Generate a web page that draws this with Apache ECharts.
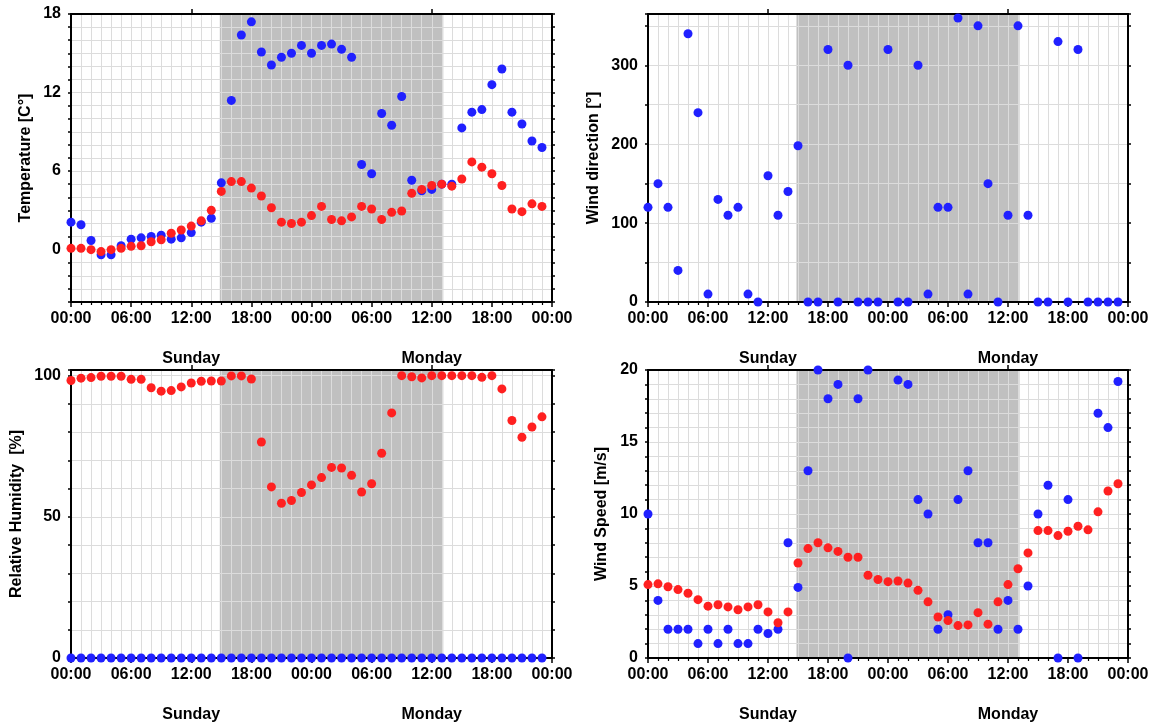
<!doctype html>
<html>
<head>
<meta charset="utf-8">
<title>Weather, Sunday - Monday</title>
<style type="text/css">
html,body {
  margin:0;
  padding:0;
  background-color:#fff;
}
#chart { width:1153px; height:724px; }
</style>
<script type="text/javascript" src="https://cdn.jsdelivr.net/npm/echarts@6/dist/echarts.min.js"></script>
</head>
<body>
<div id="chart"></div>
<script type="text/javascript">
// hours since Sunday 00:00
var hours = [0,1,2,3,4,5,6,7,8,9,10,11,12,13,14,15,16,17,18,19,20,21,22,23,
             24,25,26,27,28,29,30,31,32,33,34,35,36,37,38,39,40,41,42,43,44,45,46,47];
var dayNames = ['Sunday', 'Monday'];
var dayTicks = [12, 36];
// dark period (grey band)
var nightStart = 14.85;
var nightEnd = 37.15;

var tempBlue = [2.1,1.9,0.7,-0.4,-0.4,0.3,0.8,0.9,1.0,1.1,0.8,0.9,1.3,2.1,2.4,
                5.1,11.4,16.4,17.4,15.1,14.1,14.7,15.0,15.6,15.0,15.6,15.7,15.3,14.7,
                6.5,5.8,10.4,9.5,11.7,5.3,4.5,4.6,5.0,5.0,9.3,10.5,10.7,12.6,13.8,10.5,9.6,8.3,7.8];
var tempRed = [0.1,0.1,0.0,-0.15,0.0,0.1,0.25,0.3,0.6,0.75,1.25,1.5,1.8,2.2,3.0,
               4.45,5.2,5.2,4.7,4.1,3.2,2.1,2.0,2.1,2.6,3.3,2.3,2.2,2.5,
               3.3,3.1,2.3,2.85,2.95,4.3,4.6,4.9,5.0,4.85,5.4,6.7,6.3,5.8,4.9,3.1,2.9,3.5,3.3];
var dirBlue = [120,150,120,40,340,240,10,130,110,120,
               10,0,160,110,140,198,0,0,320,0,
               300,0,0,0,320,0,0,300,10,120,
               120,360,10,350,150,0,110,350,110,0,
               0,330,0,320,0,0,0,0];
var humRed = [98.3,99.1,99.3,99.8,99.8,99.8,98.7,98.7,95.7,94.5,
              94.7,96.0,97.4,98.0,98.1,98.1,99.9,99.9,98.8,76.5,
              60.6,54.8,55.8,58.6,61.3,63.9,67.5,67.3,64.7,58.8,
              61.7,72.5,86.8,100,99.6,99.2,100,100,100,100,
              100,99.4,100,95.3,84.1,78.2,81.8,85.4];
var humBlue = [0,0,0,0,0,0,0,0,0,0,0,0,0,0,0,0,0,0,0,0,0,0,0,0,
               0,0,0,0,0,0,0,0,0,0,0,0,0,0,0,0,0,0,0,0,0,0,0,0];
var windBlue = [10,4,2,2,2,1,2,1,2,1,
                1,2,1.7,2,8,4.9,13,20,18,19,
                0,18,20,null,null,19.3,19,11,10,2,
                3,11,13,8,8,2,4,2,5,10,
                12,0,11,0,null,17,16,19.2];
var windRed = [5.1,5.15,4.95,4.75,4.5,4.05,3.6,3.7,3.55,3.35,
               3.55,3.7,3.2,2.45,3.2,6.6,7.6,8.0,7.65,7.4,
               7.0,7.0,5.75,5.45,5.3,5.35,5.2,4.7,3.9,2.85,
               2.6,2.25,2.3,3.15,2.35,3.9,5.1,6.2,7.3,8.85,
               8.85,8.5,8.8,9.15,8.9,10.15,11.6,12.1];

var BLUE = '#2020ff';
var RED = '#ff2020';
var GRIDC = '#dcdcdc';
var FONT = 'Liberation Sans';

var panels = [
  { left: 71,  top: 14,  width: 481, height: 288, name: 'Temperature [C°]', nameGap: 37,
    min: -4, max: 18, interval: 1, step: 6,
    series: [[tempBlue, BLUE], [tempRed, RED]] },
  { left: 648, top: 14,  width: 480, height: 288, name: 'Wind direction [°]', nameGap: 46,
    min: 0, max: 365, interval: 50, step: 100,
    series: [[dirBlue, BLUE]] },
  { left: 71,  top: 370, width: 481, height: 288, name: 'Relative Humidity  [%]', nameGap: 46,
    min: 0, max: 102, interval: 10, step: 50,
    series: [[humBlue, BLUE], [humRed, RED]] },
  { left: 648, top: 370, width: 480, height: 288, name: 'Wind Speed [m/s]', nameGap: 38,
    min: 0, max: 20, interval: 1, step: 5,
    series: [[windBlue, BLUE], [windRed, RED]] }
];

function hourLabel(v) {
  var h = v % 24;
  return (h < 10 ? '0' : '') + h + ':00';
}

var grid = [], xAxis = [], yAxis = [], series = [];

panels.forEach(function(p, i) {
  grid.push({ left: p.left, top: p.top, width: p.width, height: p.height });

  // bottom time axis
  xAxis.push({
    type: 'value', gridIndex: i, position: 'bottom', min: 0, max: 48, interval: 6, z: 2,
    axisLine: { show: true, onZero: false, lineStyle: { color: '#000', width: 2 } },
    axisTick: { show: true, length: 5, lineStyle: { color: '#000', width: 1.5 } },
    minorTick: { show: true, splitNumber: 6, length: 3, lineStyle: { color: '#000', width: 1.2 } },
    splitLine: { show: true, lineStyle: { color: GRIDC, width: 1 } },
    minorSplitLine: { show: true, lineStyle: { color: GRIDC, width: 1 } },
    axisLabel: { color: '#000', fontFamily: FONT, fontWeight: 'bold', fontSize: 16, margin: 9,
                 formatter: hourLabel }
  });
  // top frame with noon ticks
  xAxis.push({
    type: 'value', gridIndex: i, position: 'top', min: 0, max: 48, z: 2,
    axisLine: { show: true, onZero: false, lineStyle: { color: '#000', width: 2 } },
    axisTick: { show: true, length: 5, customValues: dayTicks, lineStyle: { color: '#000', width: 1.5 } },
    axisLabel: { show: false },
    splitLine: { show: false }
  });
  // day names under the hours
  xAxis.push({
    type: 'value', gridIndex: i, position: 'bottom', offset: 41, min: 0, max: 48,
    axisLine: { show: false },
    axisTick: { show: false },
    splitLine: { show: false },
    axisLabel: { color: '#000', fontFamily: FONT, fontWeight: 'bold', fontSize: 16,
                 customValues: dayTicks,
                 formatter: function(v) { return dayNames[Math.floor(v / 24)]; } }
  });

  yAxis.push({
    type: 'value', gridIndex: i, position: 'left', min: p.min, max: p.max, interval: p.interval, z: 2,
    name: p.name, nameLocation: 'middle', nameGap: p.nameGap,
    nameTextStyle: { color: '#000', fontFamily: FONT, fontWeight: 'bold', fontSize: 16 },
    axisLine: { show: true, onZero: false, lineStyle: { color: '#000', width: 2 } },
    axisTick: { show: true, length: 3, lineStyle: { color: '#000', width: 1.5 } },
    splitLine: { show: true, lineStyle: { color: GRIDC, width: 1 } },
    axisLabel: { color: '#000', fontFamily: FONT, fontWeight: 'bold', fontSize: 16, margin: 10,
                 formatter: function(v) { return v % p.step === 0 ? String(v) : ''; } }
  });
  yAxis.push({
    type: 'value', gridIndex: i, position: 'right', min: p.min, max: p.max, interval: p.interval, z: 2,
    axisLine: { show: true, onZero: false, lineStyle: { color: '#000', width: 2 } },
    axisTick: { show: true, length: 3, lineStyle: { color: '#000', width: 1.5 } },
    splitLine: { show: false },
    axisLabel: { show: false }
  });

  // grey band for the dark hours, drawn under the grid lines
  series.push({
    type: 'scatter', xAxisIndex: i * 3, yAxisIndex: i * 2, z: 0, silent: true, data: [],
    markArea: {
      silent: true,
      z: 0,
      itemStyle: { color: '#c0c0c0' },
      data: [[{ xAxis: nightStart }, { xAxis: nightEnd }]]
    }
  });

  p.series.forEach(function(s) {
    series.push({
      type: 'scatter', xAxisIndex: i * 3, yAxisIndex: i * 2, z: 3,
      symbol: 'circle', symbolSize: 9,
      itemStyle: { color: s[1], opacity: 1 },
      data: hours.map(function(h, k) { return [h, s[0][k]]; })
               .filter(function(d) { return d[1] !== null; })
    });
  });
});

var myChart = echarts.init(document.getElementById('chart'));
myChart.setOption({
  animation: false,
  backgroundColor: '#fff',
  grid: grid,
  xAxis: xAxis,
  yAxis: yAxis,
  series: series
});
</script>
</body>
</html>
